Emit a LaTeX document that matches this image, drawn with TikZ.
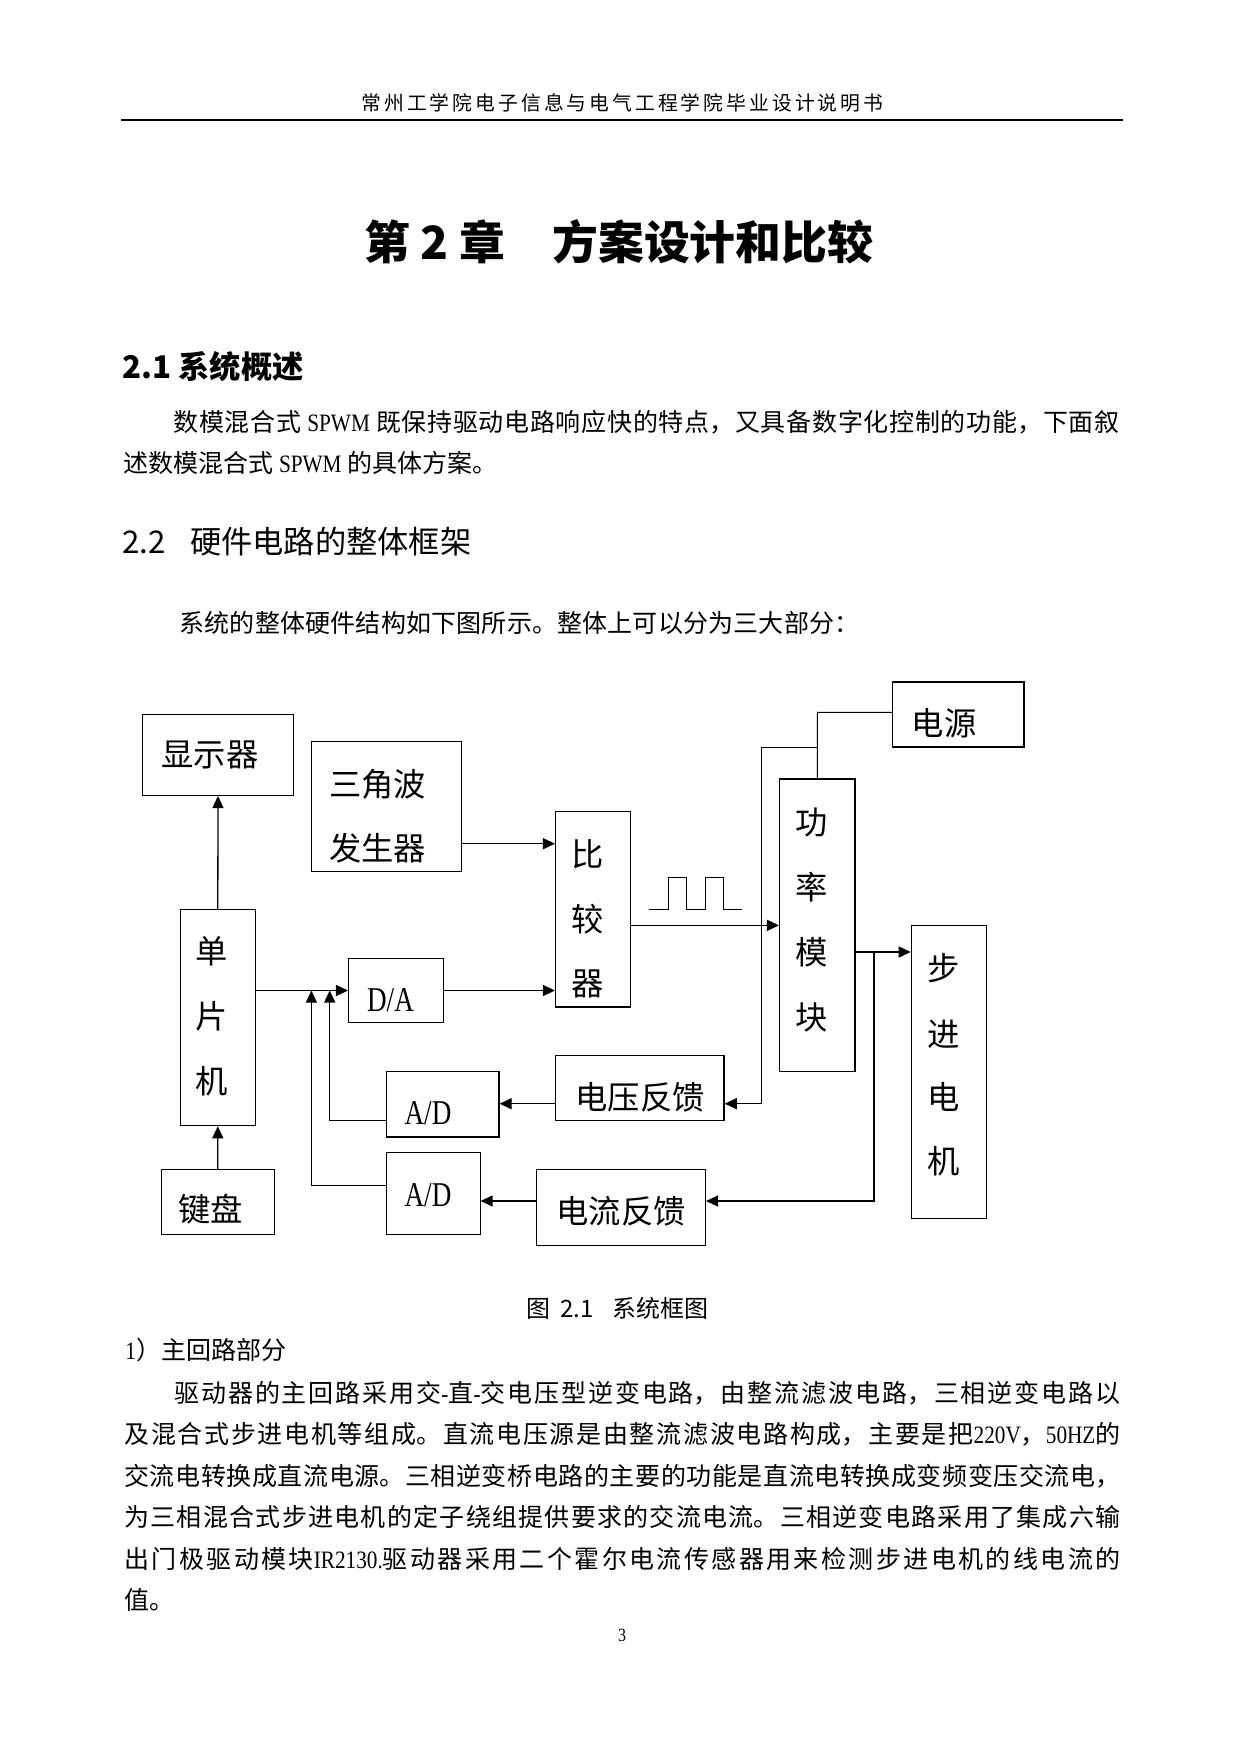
\documentclass[tikz,border=0pt]{standalone}
\usepackage{fontspec}
\setmainfont{Noto Sans CJK SC}
\newfontfamily\lat[FakeStretch=0.85]{Liberation Serif}
\newfontfamily\latn[FakeStretch=0.78]{Liberation Serif}
\usetikzlibrary{arrows.meta,fit}
\XeTeXlinebreaklocale "zh"
\XeTeXlinebreakskip=0pt plus 2pt
\tolerance=9999
\hbadness=10000
\begin{document}
\begin{tikzpicture}[x=0.48pt,y=-0.48pt,
  box/.style={draw, line width=0.65pt, inner sep=0pt},
  boxthin/.style={draw, line width=0.5pt, inner sep=0pt},
  lbl/.style={inner sep=0pt, font=\fontsize{15.5}{18}\selectfont},
  latlbl/.style={inner sep=0pt, anchor=base, font=\latn\fontsize{16.7}{20}\selectfont},
  conn/.style={line width=0.62pt},
  thinl/.style={line width=0.48pt},
  tip/.style={-{Triangle[length=5.8pt,width=5.3pt]}},
  txt/.style={inner sep=0pt, anchor=base west}]
\useasboundingbox (0,0) rectangle (1241,1754);
\fill[white] (0,0) rectangle (1241,1754);

% ---------- page text ----------
\node[txt] (hdr) at (361,110.5) {\parbox[t]{250.56pt}{\fontsize{9.5}{12}\selectfont\parfillskip=0pt 常州工学院电子信息与电气工程学院毕业设计说明书}};
\draw[line width=0.96pt] (121,120) -- (1123,120);

\node[txt] (t1) at (364,259.4) {\fontsize{22}{26}\selectfont\bfseries 第 2 章};
\node[txt] (t2) at (552,259.4) {\fontsize{22}{26}\selectfont\bfseries 方案设计和比较};

\node[txt] (h1) at (122,378) {\fontsize{15}{18}\selectfont\bfseries 2.1 系统概述};

\node[txt] (para1) at (123,431.5) {\parbox[t]{478.1pt}{\fontsize{12}{19.87}\selectfont\hspace*{2em}数模混合式 {\lat SPWM} 既保持驱动电路响应快的特点，又具备数字化控制的功能，下面叙\linebreak
述数模混合式 {\lat SPWM} 的具体方案。}};

\node[txt] (h2) at (122,553) {\fontsize{15}{18}\selectfont\makebox[32.5pt][l]{2.2}硬件电路的整体框架};

\node[txt] (intro) at (179,632.5) {\parbox[t]{326.4pt}{\fontsize{12}{14}\selectfont\parfillskip=0pt 系统的整体硬件结构如下图所示。整体上可以分为三大部分：}};

\node[txt] (cap) at (526,1317.4) {\fontsize{11.5}{13}\selectfont\makebox[16.3pt][l]{图}\makebox[25pt][l]{2.1}系统框图};

\node[txt] (item1) at (125,1359.5) {\fontsize{12}{14}\selectfont{\lat 1}）主回路部分};

\node[txt] (para2) at (124,1402.5) {\parbox[t]{478.1pt}{\fontsize{12}{19.87}\selectfont\hspace*{2em}驱动器的主回路采用交{\lat -}直{\lat -}交电压型逆变电路，由整流滤波电路，三相逆变电路以\linebreak
及混合式步进电机等组成。直流电压源是由整流滤波电路构成，主要是把{\lat 220V}，{\lat 50HZ}的\linebreak
交流电转换成直流电源。三相逆变桥电路的主要的功能是直流电转换成变频变压交流电，\linebreak
为三相混合式步进电机的定子绕组提供要求的交流电流。三相逆变电路采用了集成六输\linebreak
出门极驱动模块{\lat IR2130.}驱动器采用二个霍尔电流传感器用来检测步进电机的线电流的\linebreak
值。}};

\node[inner sep=0pt, anchor=base] (pg) at (622,1641) {\lat\fontsize{9}{11}\selectfont 3};

% ---------- boxes ----------
\node[box, fit={(142.7,714.3) (293.3,795.3)}] (disp) {};
\node[box, fit={(311.7,741.7) (461.3,871.7)}] (tri) {};
\node[box, fit={(555.7,811.7) (630.3,1007)}] (cmp) {};
\node[boxthin, fit={(180.3,909.3) (255.3,1125.7)}] (mcu) {};
\node[box, fit={(348.7,958.3) (443.3,1022.7)}] (da) {};
\node[box, fit={(892.7,682) (1024,747)}] (pwr) {};
\node[box, fit={(779.7,779) (855,1071.7)}] (pm) {};
\node[boxthin, fit={(911.3,925.7) (986.3,1218.3)}] (motor) {};
\node[box, fit={(555.3,1055.3) (724,1120.3)}] (vfb) {};
\node[boxthin, fit={(536.3,1169.3) (705.5,1245.3)}] (cfb) {};
\node[box, fit={(386.4,1071.7) (498.9,1137)}] (ad1) {};
\node[boxthin, fit={(386.4,1152.7) (480.1,1234.3)}] (ad2) {};
\node[boxthin, fit={(161.3,1169.3) (274.2,1234.3)}] (kb) {};

% ---------- labels ----------
\node[lbl] (ldisp) at (210,755) {显示器};
\node[lbl] (ltri1) at (377.5,784) {三角波};
\node[lbl] (ltri2) at (377.5,848) {发生器};
\node[lbl] (lc1) at (588,854) {比};
\node[lbl] (lc2) at (588,919) {较};
\node[lbl] (lc3) at (588,984) {器};
\node[lbl] (lm1) at (212,951) {单};
\node[lbl] (lm2) at (212,1016.5) {片};
\node[lbl] (lm3) at (212,1081.7) {机};
\node[latlbl] (lda) at (390.5,1011) {D/A};
\node[latlbl] (lad1) at (428,1124.5) {A/D};
\node[latlbl] (lad2) at (428,1206) {A/D};
\node[lbl] (lkb) at (210.5,1209) {键盘};
\node[lbl] (lvfb) at (640,1097.5) {电压反馈};
\node[lbl] (lcfb) at (621,1211) {电流反馈};
\node[lbl] (lpwr) at (944,723) {电源};
\node[lbl] (lp1) at (812,822.5) {功};
\node[lbl] (lp2) at (812,887) {率};
\node[lbl] (lp3) at (812,952.5) {模};
\node[lbl] (lp4) at (812,1017) {块};
\node[lbl] (ls1) at (943.5,968) {步};
\node[lbl] (ls2) at (943.5,1034) {进};
\node[lbl] (ls3) at (943.5,1097) {电};
\node[lbl] (ls4) at (943.5,1161.5) {机};

% ---------- helper coordinates ----------
\coordinate (j1) at (817.35,712.3);
\coordinate (j2) at (817.35,747);
\coordinate (j3) at (761.5,747);
\coordinate (j6) at (761.5,1103.7);
\coordinate (j4) at (874,952);
\coordinate (j5) at (874,1201);
\coordinate (j7) at (500,843.7);
\coordinate (k1) at (329.7,1120.7);
\coordinate (k2) at (311.4,1185.3);

% ---------- connectors ----------
\draw[conn,tip] (mcu.north) -- (disp.south);
\draw[conn,tip] (kb.north) -- (mcu.south);
\draw[conn,tip] (mcu.east |- da.west) -- (da.west);
\draw[conn,tip] (da.east) -- (cmp.west |- da.east);
\draw[conn,tip] (tri.east |- j7) -- (cmp.west |- j7);
\draw[conn,tip] (cmp.east |- pm.west) -- (pm.west);
\draw[conn,tip] (pm.east |- j4) -- (motor.west |- j4);
\draw[thinl] (pwr.west |- j1) -- (j1) -- (pm.north);
\draw[thinl,tip] (j2) -- (j3) -- (j6) -- (vfb.east |- j6);
\draw[conn,tip] (j4) -- (j5) -- (cfb.east |- j5);
\draw[conn,tip] (vfb.west |- j6) -- (ad1.east |- j6);
\draw[conn,tip] (cfb.west |- j5) -- (ad2.east |- j5);
\draw[conn,tip] (ad1.west |- k1) -- (k1) -- (k1 |- da.west);
\draw[thinl,tip] (ad2.west |- k2) -- (k2) -- (k2 |- da.west);

% ---------- pulse train ----------
\draw[thinl] (649.3,909.3) -- (668,909.3) -- (668,877) -- (686.7,877) -- (686.7,909.3)
  -- (705.3,909.3) -- (705.3,877) -- (723.7,877) -- (723.7,909.3) -- (742.3,909.3);
\end{tikzpicture}
\end{document}
